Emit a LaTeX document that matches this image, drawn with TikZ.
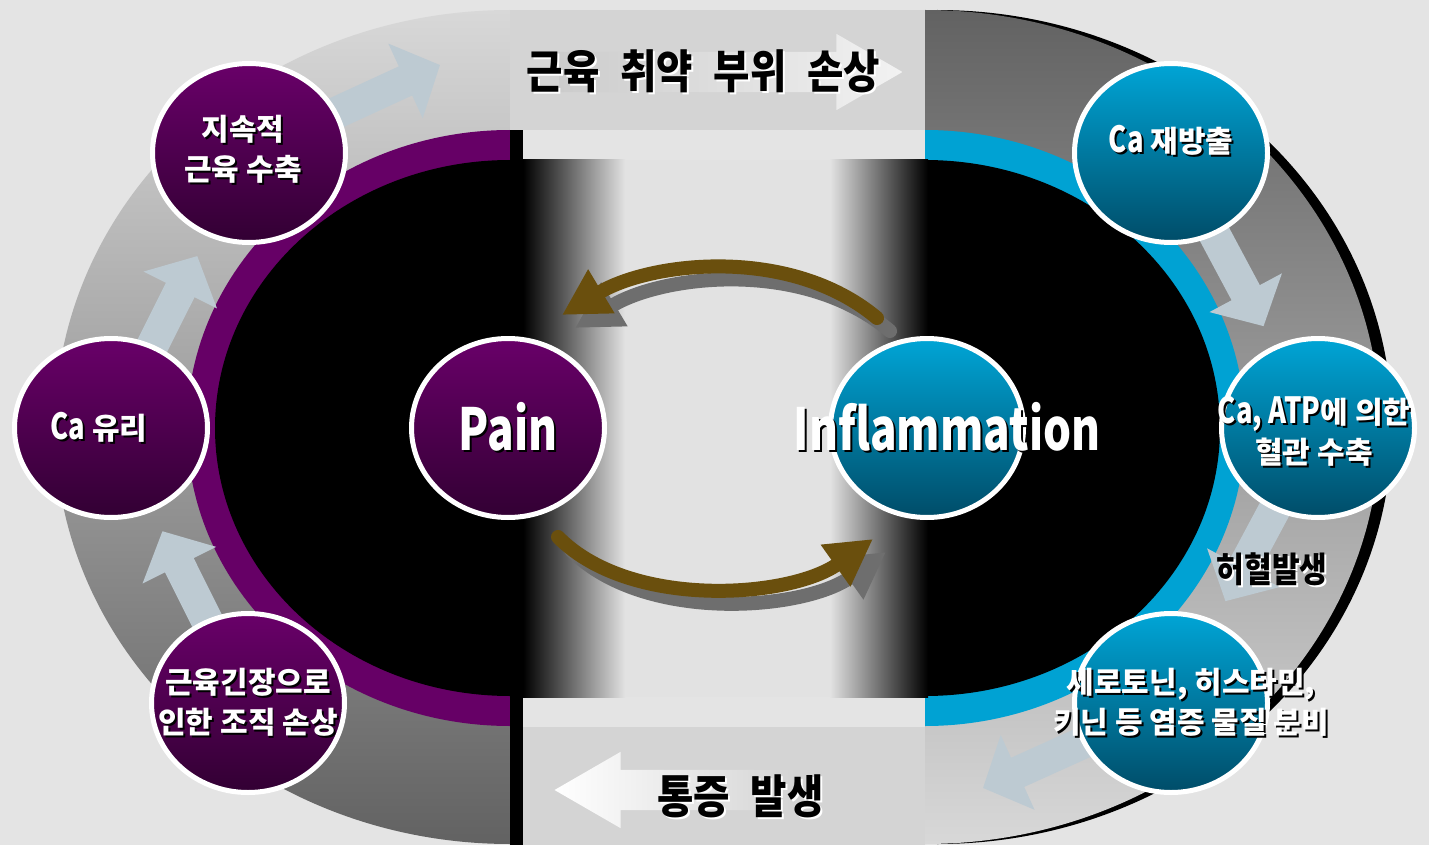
\documentclass[tikz,border=0pt]{standalone}
\usepackage{fontspec}
\setmainfont{Noto Sans CJK KR}
\newfontfamily\narrowsans{Noto Sans CJK KR}[FakeStretch=0.76]
\newfontfamily\headsans{Noto Sans CJK KR}[FakeStretch=0.86,WordSpace=2.3]
\usetikzlibrary{arrows.meta,shapes.geometric,shapes.arrows}

\definecolor{bggray}{HTML}{E4E4E4}
\definecolor{ptop}{HTML}{690069}
\definecolor{pbot}{HTML}{320033}
\definecolor{ctop}{HTML}{00A5D6}
\definecolor{cbot}{HTML}{004C68}
\definecolor{purpring}{HTML}{660066}
\definecolor{cyanring}{HTML}{00A2D3}
\definecolor{ringlight}{HTML}{D8D8D8}
\definecolor{ringdark}{HTML}{626262}
\definecolor{midlight}{HTML}{E2E2E2}
\definecolor{bandgray}{HTML}{D4D4D4}
\definecolor{brownarr}{HTML}{6A4F0D}
\definecolor{shadowarr}{HTML}{6E6E6E}
\definecolor{ringarrow}{HTML}{BDCAD2}

\newcommand\shtxt[2][black]{\leavevmode\rlap{\kern2pt\raisebox{-2pt}{\color{#1}#2}}#2}
\newcommand\ca[1]{{\narrowsans\fontsize{36pt}{40pt}\selectfont #1}}

\pgfdeclarelayer{bg}
\pgfdeclarelayer{mid}
\pgfsetlayers{bg,mid,main}

\begin{document}
\begin{tikzpicture}[x=1pt, y=-1pt,
    pbub/.style={ellipse, minimum width=193pt, minimum height=179pt, inner sep=0pt, draw=white, line width=5pt, top color=ptop, bottom color=pbot},
    cbub/.style={ellipse, minimum width=193pt, minimum height=179pt, inner sep=0pt, draw=white, line width=5pt, top color=ctop, bottom color=cbot},
    ctext/.style={text=white, font=\fontsize{30pt}{40pt}\selectfont\bfseries, align=center},
    bigtext/.style={text=white, font=\narrowsans\fontsize{58pt}{60pt}\selectfont\bfseries},
    headtext/.style={font=\headsans\fontsize{46pt}{48pt}\selectfont\bfseries},
    marktext/.style={font=\headsans\fontsize{35pt}{40pt}\selectfont\bfseries},
    bandarr/.style={single arrow, single arrow head extend=18pt, single arrow tip angle=60, minimum width=76pt, inner xsep=0pt, inner ysep=20pt},
    ringarr/.style={draw=ringarrow, line width=32pt, shorten <=-20pt, -{Triangle[length=38pt,width=80pt]}},
    cycarr/.style={draw=brownarr, line width=14pt, line cap=round, -{Triangle[length=46pt,width=48pt]},
        preaction={draw=shadowarr, line width=14pt, line cap=round, transform canvas={shift={(13,13)}}}}
]
\useasboundingbox (0,0) rectangle (1429,845);

\begin{pgfonlayer}{bg}
\fill[bggray] (0,0) rectangle (1429,845);
\fill[black] (937,10) arc[start angle=270, end angle=450, x radius=455, y radius=417] -- cycle;
\shade[top color=ringlight, bottom color=ringdark] (510,10) arc[start angle=270, end angle=90, x radius=455, y radius=417] -- cycle;
\shade[top color=ringdark, bottom color=ringlight] (925,10) arc[start angle=270, end angle=450, x radius=455, y radius=417] -- cycle;
\fill[purpring] (510,130) arc[start angle=270, end angle=90, x radius=323, y radius=298] -- cycle;
\fill[black] (510,160) arc[start angle=270, end angle=90, x radius=295, y radius=268] -- cycle;
\fill[cyanring] (925,130) arc[start angle=270, end angle=450, x radius=320, y radius=298] -- cycle;
\fill[black] (925,160) arc[start angle=270, end angle=450, x radius=295, y radius=268] -- cycle;
\fill[bandgray] (510,10) rectangle (925,130);
\fill[bandgray] (523,727) rectangle (925,845);
\shade[left color=black, right color=midlight] (523,160) rectangle (625,697);
\fill[midlight] (625,160) rectangle (830,697);
\shade[left color=midlight, right color=black] (830,160) rectangle (928,697);
\fill[black] (510,130) rectangle (523,845);
\end{pgfonlayer}

\node[bandarr, minimum height=343pt, left color=gray!40, right color=white!95!black,
    label={[headtext, xshift=-10pt]center:\shtxt[white]{근육 취약 부위 손상}}] (vuln) at (713.5,72) {};
\node[bandarr, shape border rotate=180, minimum height=241pt, left color=white, right color=bandgray,
    label={[headtext, xshift=48pt, yshift=-7pt]center:\shtxt[white]{통증 발생}}] (painon) at (692.5,790) {};

\node[pbub, label={[ctext, xshift=-6pt, yshift=3pt]center:{\shtxt{지속적}\\\shtxt{근육 수축}}}] (contract) at (249,153) {};
\node[pbub, label={[ctext, xshift=-12pt]center:\shtxt{\ca{Ca} 유리}}] (release) at (111,428) {};
\node[pbub, label={[ctext]center:{\shtxt{근육긴장으로}\\\shtxt{인한 조직 손상}}}] (damage) at (248,703) {};
\node[pbub, label={[bigtext]center:\shtxt{Pain}}] (pain) at (508,428) {};
\node[cbub, label={[bigtext, xshift=20pt]center:\shtxt{Inflammation}}] (inflam) at (927,428) {};
\node[cbub, label={[ctext, yshift=12pt]center:\shtxt{\ca{Ca} 재방출}}] (rerelease) at (1171,153) {};
\node[cbub, label={[ctext, xshift=-4pt, yshift=-4pt]center:{\shtxt{\ca{Ca, ATP}에 의한}\\\shtxt{혈관 수축}}}] (vaso) at (1318,428) {};
\node[cbub, label={[ctext, xshift=20pt]center:{\shtxt{세로토닌, 히스타민,}\\\shtxt{키닌 등 염증 물질 분비}}}] (mediator) at (1171,703) {};

\coordinate (vulnin) at (440,65);
\coordinate (painin) at (983,788);
\begin{pgfonlayer}{mid}
\draw[ringarr, shorten >=22pt] (damage) -- (release);
\draw[ringarr, shorten >=22pt] (release) -- (contract);
\draw[ringarr] (contract) -- (vulnin);
\draw[ringarr, shorten >=22pt] (rerelease) -- (vaso);
\draw[ringarr, shorten >=22pt] (vaso) -- (mediator);
\draw[ringarr] (mediator) -- (painin);
\end{pgfonlayer}

\node[marktext] (ischemia) at (1272,570) {\shtxt[white]{허혈발생}};

\draw[cycarr] ([shift={(-50,-110)}]inflam.center) .. controls (790,245) and (650,262) .. ([shift={(54,-113)}]pain.center);
\draw[cycarr] ([shift={(50,109)}]pain.center) .. controls (630,610) and (790,598) .. ([shift={(-54,111)}]inflam.center);
\end{tikzpicture}
\end{document}
